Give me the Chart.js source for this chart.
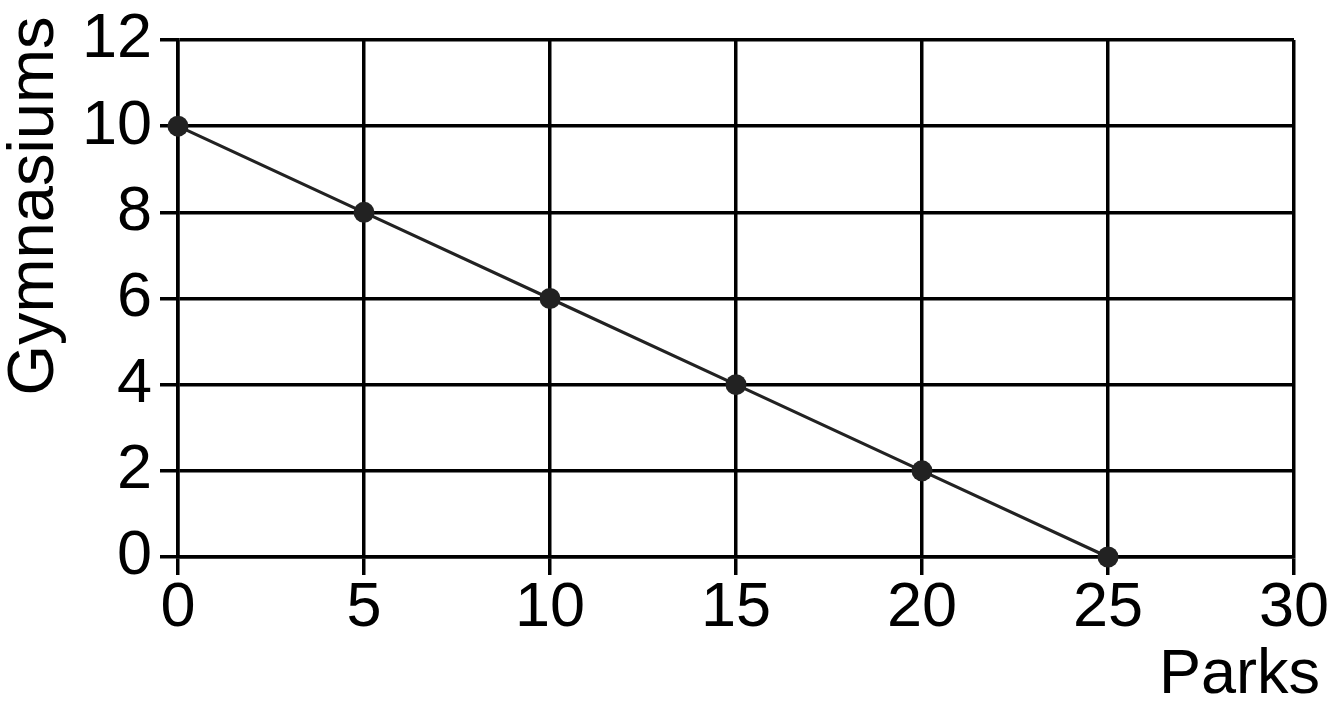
<!DOCTYPE html>
<html>
<head>
<meta charset="utf-8">
<script src="https://cdn.jsdelivr.net/npm/chart.js@4/dist/chart.umd.min.js"></script>
<style>
  html, body { margin: 0; padding: 0; background: #fff; }
  #wrap { width: 1332px; height: 711px; }
</style>
</head>
<body>
<div id="wrap"><canvas id="chart" width="1332" height="711"></canvas></div>
<script>
const parks = [0, 5, 10, 15, 20, 25];
const gyms = [10, 8, 6, 4, 2, 0];
const xTicks = [0, 5, 10, 15, 20, 25, 30];
const yTicks = [0, 2, 4, 6, 8, 10, 12];
const xTitle = "Parks";
const yTitle = "Gymnasiums";

const FONT = '"Liberation Sans", Arial, Helvetica, sans-serif';
const INK = "#000";
const MARK = "#222";

// axis titles are placed like the printed figure: y title near the top, x title under the right end
const titles = {
  id: "titles",
  afterDraw(chart) {
    const { ctx, chartArea } = chart;
    ctx.save();
    ctx.fillStyle = INK;
    ctx.textBaseline = "alphabetic";
    ctx.font = `63px ${FONT}`;
    ctx.textAlign = "right";
    ctx.fillText(xTitle, chartArea.right + 26, chartArea.bottom + 136);
    ctx.font = `65px ${FONT}`;
    ctx.translate(53, chartArea.top + 166);
    ctx.rotate(-Math.PI / 2);
    ctx.textAlign = "center";
    ctx.fillText(yTitle, 0, 0);
    ctx.restore();
  },
};

const grid = { color: INK, lineWidth: 3.5, tickLength: 18, tickColor: INK, drawTicks: true };
const tickFont = { family: FONT, size: 63, lineHeight: 1 };

new Chart(document.getElementById("chart"), {
  type: "scatter",
  data: {
    datasets: [{
      data: parks.map((p, i) => ({ x: p, y: gyms[i] })),
      showLine: true,
      borderColor: MARK,
      borderWidth: 3.2,
      backgroundColor: MARK,
      pointBackgroundColor: MARK,
      pointBorderWidth: 0,
      pointRadius: 10.5,
      clip: false,
    }],
  },
  options: {
    responsive: false,
    animation: false,
    devicePixelRatio: 1,
    layout: { padding: { top: 40, right: 38, left: 0, bottom: 0 } },
    plugins: { legend: { display: false }, tooltip: { enabled: false } },
    scales: {
      x: {
        type: "linear",
        min: xTicks[0],
        max: xTicks[xTicks.length - 1],
        afterBuildTicks: (s) => { s.ticks = xTicks.map((v) => ({ value: v })); },
        afterFit: (s) => { s.height = 154; },
        grid,
        border: { color: INK, width: 3.5 },
        ticks: { color: INK, font: tickFont, padding: 2, maxRotation: 0 },
      },
      y: {
        type: "linear",
        min: yTicks[0],
        max: yTicks[yTicks.length - 1],
        afterBuildTicks: (s) => { s.ticks = yTicks.map((v) => ({ value: v })); },
        afterFit: (s) => { s.width = 178; },
        grid,
        border: { color: INK, width: 3.5 },
        ticks: { color: INK, font: tickFont, padding: 8 },
      },
    },
  },
  plugins: [titles],
});
</script>
</body>
</html>
